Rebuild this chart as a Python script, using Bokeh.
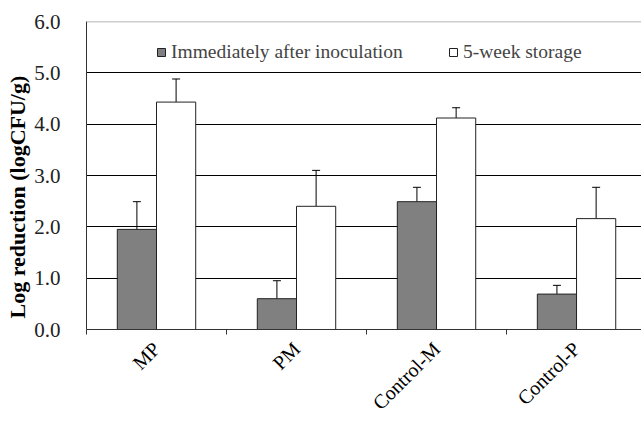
import numpy as np
from bokeh.plotting import figure
from bokeh.models import (ColumnDataSource, FixedTicker, Range1d, Whisker, TeeHead,
                          Span, Title, Legend, LegendItem)
from bokeh.embed import file_html
from bokeh.resources import INLINE

categories = ["MP", "PM", "Control-M", "Control-P"]
immediate = [1.95, 0.60, 2.49, 0.69]
immediate_err = [0.54, 0.35, 0.28, 0.17]
storage = [4.43, 2.40, 4.12, 2.16]
storage_err = [0.45, 0.70, 0.20, 0.61]
y_ticks = [0, 1, 2, 3, 4, 5, 6]

FONT = "Liberation Serif"
bw = 0.28
idx = np.arange(len(categories))
centers = idx + 0.5

src_a = ColumnDataSource(dict(x=centers - bw / 2, top=immediate,
                              upper=np.array(immediate) + np.array(immediate_err),
                              lower=immediate))
src_b = ColumnDataSource(dict(x=centers + bw / 2, top=storage,
                              upper=np.array(storage) + np.array(storage_err),
                              lower=storage))

p = figure(width=641, height=424, output_backend="svg", toolbar_location=None,
           x_range=Range1d(0, 3.964), y_range=Range1d(0, 6),
           min_border_left=86, min_border_top=21, min_border_bottom=95,
           min_border_right=0)
p.outline_line_color = None
p.background_fill_color = "white"

p.xgrid.visible = False
p.ygrid.ticker = FixedTicker(ticks=[1, 2, 3, 4, 5])
p.ygrid.grid_line_color = "black"
p.ygrid.grid_line_width = 1
p.add_layout(Span(location=6, dimension="width", line_color="#9a9a9a", line_width=1.5))

r_a = p.vbar(x="x", top="top", width=bw, bottom=0, source=src_a,
             fill_color="#808080", line_color="#222222", line_width=1)
r_b = p.vbar(x="x", top="top", width=bw, bottom=0, source=src_b,
             fill_color="white", line_color="#222222", line_width=1)

for src in (src_a, src_b):
    w = Whisker(base="x", upper="upper", lower="lower", source=src,
                line_color="black", line_width=1,
                upper_head=TeeHead(size=8, line_color="black", line_width=1),
                lower_head=None)
    p.add_layout(w)

# x axis
p.xaxis.ticker = FixedTicker(ticks=list(centers), minor_ticks=list(idx.astype(float)))
p.xaxis.major_label_overrides = {float(c): lab for c, lab in zip(centers, categories)}
p.xaxis.major_tick_line_color = None
p.xaxis.minor_tick_line_color = "#333333"
p.xaxis.minor_tick_out = 5
p.xaxis.minor_tick_in = 0
p.xaxis.axis_line_color = "#333333"
p.xaxis.major_label_orientation = np.pi / 4
p.xaxis.major_label_text_font = FONT
p.xaxis.major_label_text_font_size = "20px"
p.xaxis.major_label_text_color = "black"
p.xaxis.major_label_standoff = 10

# y axis
p.yaxis.ticker = FixedTicker(ticks=y_ticks)
p.yaxis.major_label_overrides = {t: f"{t:.1f}" for t in y_ticks}
p.yaxis.major_tick_line_color = None
p.yaxis.minor_tick_line_color = None
p.yaxis.axis_line_color = "#333333"
p.yaxis.major_label_text_font = FONT
p.yaxis.major_label_text_font_size = "21px"
p.yaxis.major_label_text_color = "#222222"
p.yaxis.major_label_standoff = 20

ylab = Title(text="Log reduction (logCFU/g)", align="left", offset=11,
             text_font=FONT, text_font_size="22px", text_font_style="bold",
             text_color="black", standoff=4)
p.add_layout(ylab, "left")

leg1 = Legend(items=[LegendItem(label="Immediately after inoculation", renderers=[r_a])],
              location=(70, 266), glyph_width=10, glyph_height=10, padding=0, margin=0,
              label_standoff=5, label_text_font=FONT, label_text_font_size="19.5px",
              background_fill_alpha=0, border_line_color=None, label_height=10)
leg2 = Legend(items=[LegendItem(label="5-week storage", renderers=[r_b])],
              location=(362, 266), glyph_width=10, glyph_height=10, padding=0, margin=0,
              label_standoff=5, label_text_font=FONT, label_text_font_size="19.5px",
              background_fill_alpha=0, border_line_color=None, label_height=10)
p.add_layout(leg1, "center")
p.add_layout(leg2, "center")

open("out.html", "w").write(file_html(p, INLINE))
